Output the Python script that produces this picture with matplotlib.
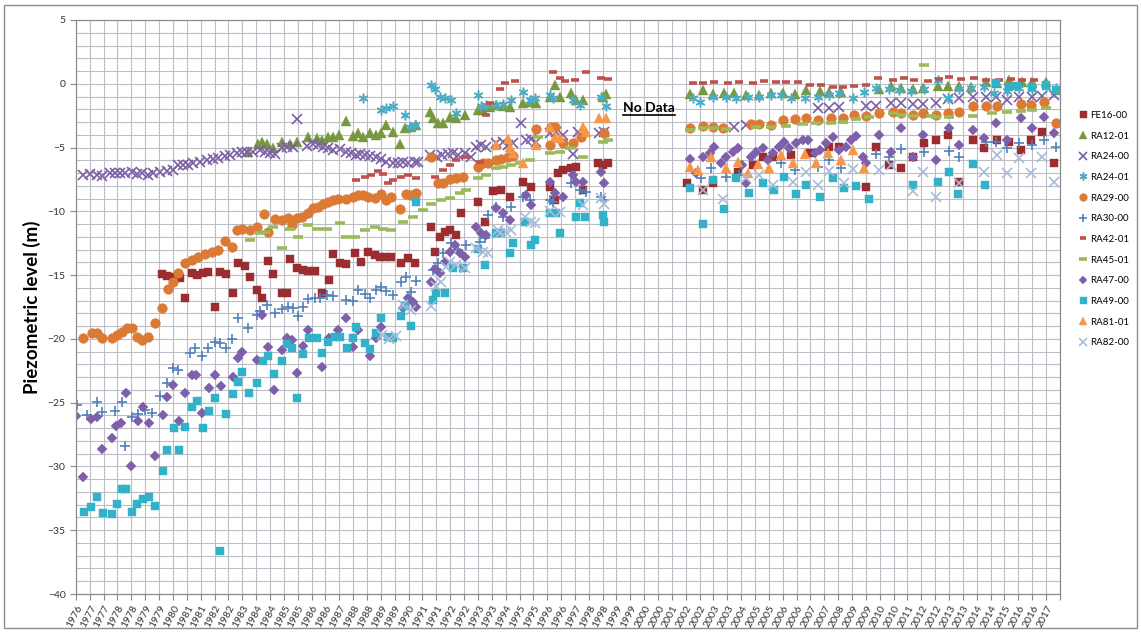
import matplotlib
matplotlib.use("Agg")
import matplotlib.pyplot as plt
from matplotlib.patches import Rectangle
from matplotlib.lines import Line2D
import pandas as pd
import numpy as np

plt.rcParams['font.family'] = ['Lato', 'DejaVu Sans']

# (decimal year, piezometric level in m)
fe16_00 = [(1980.02,-14.91),(1980.23,-15.06),(1980.51,-15.16),(1980.79,-15.24),(1981.00,-16.81),(1981.28,-14.80),
           (1981.49,-14.98),(1981.77,-14.80),(1981.98,-14.72),(1982.26,-17.47),(1982.47,-14.72),(1982.75,-14.91),
           (1983.01,-16.42),(1983.24,-14.07),(1983.52,-14.28),(1983.74,-15.16),(1984.02,-16.16),(1984.23,-16.81),
           (1984.51,-13.86),(1984.72,-14.91),(1985.07,-16.42),(1985.30,-16.37),(1985.42,-13.76),(1985.70,-14.46),
           (1985.98,-14.59),(1986.19,-14.64),(1986.47,-14.64),(1986.75,-16.42),(1987.07,-15.38),(1987.24,-13.34),
           (1987.52,-14.02),(1987.80,-14.12),(1988.15,-13.28),(1988.43,-13.94),(1988.71,-13.16),(1988.99,-13.42),
           (1989.20,-13.55),(1989.41,-13.60),(1989.69,-13.55),(1990.11,-14.07),(1990.39,-13.68),(1990.67,-14.07),
           (1991.37,-11.20),(1991.51,-13.16),(1991.72,-12.03),(1991.93,-11.59),(1992.15,-11.46),(1992.43,-11.85),
           (1992.64,-10.15),(1993.34,-9.24),(1993.62,-10.80),(1993.97,-8.38),(1994.32,-8.32),(1994.67,-8.85),
           (1995.23,-7.67),(1995.58,-8.06),(1996.35,-8.06),(1996.56,-9.11),(1996.70,-7.01),(1996.91,-6.76),
           (1997.27,-6.62),(1997.48,-6.50),(1997.76,-8.32),(1998.38,-6.23),(1998.59,-6.36),(1998.80,-6.23),
           (2002.13,-7.75),(2002.80,-8.32),(2003.22,-7.80),(2004.30,-6.90),(2004.90,-6.40),(2005.32,-5.71),
           (2005.74,-5.71),(2006.50,-5.60),(2007.30,-5.40),(2008.13,-4.93),(2008.55,-4.93),(2009.67,-8.06),
           (2010.09,-4.93),(2010.65,-6.36),(2011.14,-6.62),(2011.63,-5.71),(2012.12,-4.66),(2012.61,-4.40),
           (2013.10,-4.01),(2013.59,-7.67),(2014.15,-4.40),(2014.64,-5.06),(2015.20,-4.40),(2015.69,-4.53),
           (2016.18,-5.19),(2016.60,-4.40),(2017.09,-3.75),(2017.58,-6.23)]

ra12_01 = [(1983.67,-5.32),(1984.09,-4.72),(1984.23,-4.53),(1984.44,-4.72),(1984.72,-5.06),(1985.07,-4.53),
           (1985.42,-4.72),(1985.73,-4.53),(1986.19,-4.20),(1986.54,-4.27),(1986.75,-4.40),(1987.03,-4.14),
           (1987.24,-4.14),(1987.49,-4.01),(1987.80,-2.89),(1988.08,-4.09),(1988.29,-3.88),(1988.50,-4.14),
           (1988.78,-3.88),(1989.06,-4.01),(1989.27,-3.88),(1989.48,-3.23),(1989.76,-3.75),(1990.04,-4.72),
           (1990.25,-3.49),(1990.53,-3.36),(1990.74,-3.23),(1991.30,-2.18),(1991.44,-2.71),(1991.65,-3.10),
           (1991.86,-3.10),(1992.15,-2.58),(1992.43,-2.71),(1992.78,-2.45),(1993.34,-2.05),(1993.55,-2.05),
           (1993.83,-1.84),(1994.11,-1.66),(1994.39,-1.74),(1994.67,-1.79),(1995.23,-1.53),(1995.51,-1.40),
           (1995.79,-1.53),(1996.35,-1.01),(1996.56,-0.09),(1996.77,-1.01),(1997.27,-0.75),(1997.48,-1.27),
           (1997.76,-1.27),(1998.59,-1.06),(1998.73,-0.83),
           (2002.24,-0.80),(2002.80,-0.49),(2003.22,-0.80),(2003.71,-0.75),(2004.13,-0.70),(2004.62,-0.88),
           (2005.18,-0.88),(2005.68,-0.75),(2006.17,-0.75),(2006.66,-0.80),(2007.15,-0.49),(2007.71,-0.54),
           (2008.13,-0.62),(2008.62,-0.62),(2010.23,-0.43),(2010.72,-0.17),(2011.14,-0.35),(2011.63,-0.43),
           (2012.05,-0.35),(2012.68,-0.17),(2013.10,-0.17),(2013.59,-0.17),(2014.08,-0.27),(2014.71,0.17),
           (2015.20,0.04),(2015.69,0.30),(2016.25,0.17),(2016.67,0.17),(2017.23,0.17),(2017.65,-0.49)]

ra24_00 = [(1976.73,-7.15),(1977.01,-7.07),(1977.29,-7.15),(1977.50,-7.20),(1977.85,-6.97),(1978.06,-7.00),
           (1978.27,-7.00),(1978.48,-6.97),(1978.76,-6.90),(1978.97,-7.10),(1979.18,-6.97),(1979.46,-7.12),
           (1979.67,-7.00),(1979.95,-6.90),(1980.23,-6.80),(1980.51,-6.75),(1980.72,-6.36),(1980.93,-6.40),
           (1981.14,-6.36),(1981.35,-6.23),(1981.63,-6.10),(1981.92,-5.97),(1982.19,-5.92),(1982.40,-5.84),
           (1982.69,-5.66),(1982.90,-5.58),(1983.18,-5.40),(1983.39,-5.32),(1983.60,-5.32),(1983.88,-5.32),
           (1984.16,-5.19),(1984.37,-5.32),(1984.58,-5.45),(1984.79,-5.50),(1985.07,-5.06),(1985.28,-4.93),
           (1985.56,-4.93),(1985.73,-2.78),(1986.12,-4.87),(1986.40,-4.72),(1986.61,-4.80),(1986.82,-4.93),
           (1987.03,-5.06),(1987.24,-5.19),(1987.52,-5.13),(1987.80,-5.32),(1988.01,-5.45),(1988.22,-5.58),
           (1988.36,-5.50),(1988.57,-5.58),(1988.78,-5.66),(1989.06,-5.71),(1989.27,-5.92),(1989.48,-6.10),
           (1989.76,-6.18),(1989.97,-6.23),(1990.18,-6.15),(1990.39,-6.18),(1990.67,-6.10),(1990.81,-6.15),
           (1991.30,-5.58),(1991.59,-5.71),(1991.80,-5.58),(1992.08,-5.50),(1992.29,-5.45),(1992.50,-5.58),
           (1992.78,-5.45),(1993.06,-5.71),(1993.27,-4.93),(1993.48,-4.80),(1993.69,-4.93),(1994.11,-4.66),
           (1994.39,-4.53),(1994.60,-4.80),(1994.81,-4.66),(1995.16,-3.05),(1995.37,-4.40),(1995.58,-4.35),
           (1995.79,-4.53),(1996.35,-3.88),(1996.63,-3.75),(1996.91,-4.01),(1997.33,-5.50),(1997.54,-3.75),
           (1998.45,-3.88),(1998.66,-3.75),
           (2004.13,-3.36),(2004.62,-3.23),(2007.64,-1.92),(2008.13,-1.92),(2008.55,-1.84),(2009.67,-1.74),
           (2010.09,-1.74),(2010.72,-1.53),(2011.14,-1.53),(2011.63,-1.58),(2012.05,-1.58),(2012.61,-1.48),
           (2013.10,-1.22),(2013.59,-1.14),(2014.15,-1.06),(2014.71,-1.01),(2015.13,-1.06),(2015.62,-1.27),
           (2016.11,-1.06),(2016.67,-1.01),(2017.09,-0.96),(2017.58,-0.88)]

ra24_01 = [(1988.50,-1.14),(1989.27,-2.05),(1989.48,-1.92),(1989.76,-1.74),(1990.25,-2.45),(1990.46,-3.36),
           (1990.67,-3.23),(1991.37,-0.09),(1991.51,-0.43),(1991.72,-1.01),(1991.93,-1.14),(1992.22,-1.27),
           (1992.43,-2.31),(1993.34,-0.88),(1993.48,-1.74),(1993.69,-1.66),(1994.11,-1.66),(1994.39,-1.58),
           (1994.74,-1.27),(1995.23,-0.62),(1995.51,-1.27),(1995.72,-1.14),(1996.35,-0.88),(1996.49,-1.14),
           (1997.33,-1.27),(1997.61,-1.66),(1998.52,-1.01),(1998.73,-1.74),
           (2002.38,-1.14),(2002.66,-1.40),(2003.22,-1.01),(2003.78,-1.01),(2004.20,-1.14),(2004.69,-1.01),
           (2005.18,-1.01),(2005.68,-0.88),(2006.10,-0.88),(2006.52,-1.14),(2007.08,-1.14),(2007.64,-1.01),
           (2008.13,-0.88),(2008.55,-0.75),(2009.11,-1.14),(2009.60,-0.62),(2010.09,-0.35),(2010.65,-0.43),
           (2011.07,-0.49),(2011.56,-0.54),(2012.12,-0.43),(2012.68,0.30),(2013.10,-1.14),(2013.59,-0.43),
           (2014.08,-0.35),(2014.64,-0.27),(2015.06,-0.75),(2015.62,-0.54),(2016.11,-0.35),(2016.67,-0.43),
           (2017.23,-0.27),(2017.65,-0.35)]

ra29_00 = [(1976.73,-19.95),(1977.08,-19.50),(1977.29,-19.55),(1977.50,-19.95),(1977.92,-19.95),(1978.13,-19.69),
           (1978.34,-19.43),(1978.55,-19.16),(1978.76,-19.16),(1978.97,-19.82),(1979.18,-20.08),(1979.46,-19.82),
           (1979.74,-18.77),(1980.02,-17.59),(1980.30,-16.10),(1980.51,-15.51),(1980.72,-14.80),(1981.00,-14.07),
           (1981.28,-13.81),(1981.56,-13.55),(1981.84,-13.34),(1982.12,-13.16),(1982.40,-13.03),(1982.69,-12.30),
           (1982.97,-12.77),(1983.18,-11.46),(1983.39,-11.40),(1983.74,-11.46),(1984.02,-11.20),(1984.33,-10.20),
           (1984.51,-11.59),(1984.79,-10.62),(1985.07,-10.67),(1985.35,-10.54),(1985.49,-11.07),(1985.70,-10.54),
           (1985.91,-10.41),(1986.19,-10.15),(1986.40,-9.76),(1986.61,-9.63),(1986.82,-9.42),(1987.03,-9.24),
           (1987.24,-9.11),(1987.45,-9.05),(1987.80,-9.05),(1988.08,-8.85),(1988.29,-8.71),(1988.50,-8.71),
           (1988.71,-8.85),(1988.99,-8.97),(1989.27,-8.64),(1989.48,-9.11),(1989.69,-8.85),(1990.04,-9.84),
           (1990.32,-8.64),(1990.53,-8.71),(1990.74,-8.58),(1991.37,-5.71),(1991.65,-7.80),(1991.86,-7.75),
           (1992.15,-7.49),(1992.43,-7.41),(1992.71,-7.33),(1993.34,-6.50),(1993.55,-6.23),(1993.76,-6.18),
           (1994.11,-5.97),(1994.32,-5.92),(1994.60,-5.71),(1994.81,-5.66),(1995.79,-3.57),(1996.35,-4.80),
           (1996.42,-3.36),(1996.56,-3.36),(1996.91,-4.61),(1997.33,-4.61),(1997.68,-4.20),(1998.66,-3.88),
           (2002.24,-3.49),(2002.80,-3.31),(2003.22,-3.36),(2003.64,-3.44),(2004.83,-3.15),(2005.18,-3.15),
           (2005.68,-3.23),(2006.17,-2.84),(2006.66,-2.78),(2007.15,-2.70),(2007.64,-2.84),(2008.20,-2.70),
           (2008.69,-2.70),(2009.18,-2.45),(2009.67,-2.52),(2010.23,-2.31),(2010.79,-2.18),(2011.14,-2.31),
           (2011.63,-2.45),(2012.05,-2.31),(2012.61,-2.45),(2013.10,-2.26),(2013.59,-2.18),(2014.15,-1.74),
           (2014.71,-1.74),(2015.20,-1.74),(2016.18,-1.58),(2016.60,-1.66),(2017.16,-1.40),(2017.65,-3.10)]

ra30_00 = [(1976.45,-25.17),(1976.87,-25.96),(1977.29,-24.91),(1977.50,-25.77),(1978.06,-25.69),(1978.34,-24.91),
           (1978.48,-28.39),(1978.76,-26.09),(1979.04,-25.88),(1979.32,-25.56),(1979.60,-25.82),(1979.95,-24.47),
           (1980.23,-23.42),(1980.51,-22.30),(1980.72,-22.43),(1981.21,-21.12),(1981.42,-20.73),(1981.70,-21.33),
           (1981.98,-20.73),(1982.26,-20.21),(1982.47,-20.29),(1982.75,-20.73),(1982.97,-20.03),(1983.24,-18.38),
           (1983.67,-19.16),(1984.02,-18.12),(1984.16,-17.78),(1984.44,-17.34),(1984.79,-17.99),(1985.07,-17.67),
           (1985.35,-17.47),(1985.56,-17.59),(1985.77,-18.20),(1985.98,-17.47),(1986.19,-16.89),(1986.47,-16.81),
           (1986.68,-16.81),(1986.96,-16.55),(1987.24,-16.63),(1987.80,-16.94),(1988.08,-17.00),(1988.29,-16.16),
           (1988.57,-16.47),(1988.78,-16.81),(1989.06,-16.16),(1989.27,-15.90),(1989.48,-16.21),(1989.76,-16.55),
           (1990.11,-15.51),(1990.32,-15.16),(1990.53,-16.29),(1990.74,-15.43),(1991.44,-14.59),(1991.65,-14.07),
           (1991.86,-13.28),(1992.22,-12.50),(1992.50,-13.03),(1992.82,-12.63),(1993.41,-12.37),(1993.62,-12.11),
           (1993.76,-10.28),(1994.11,-9.63),(1994.39,-10.41),(1994.74,-9.63),(1995.23,-8.85),(1995.51,-9.11),
           (1996.35,-9.11),(1996.49,-9.24),(1997.27,-7.80),(1997.61,-8.32),(1997.89,-8.45),(1998.52,-8.85),
           (1998.66,-9.11),
           (2002.73,-7.41),(2003.15,-6.62),(2003.78,-7.28),(2004.34,-7.15),(2006.10,-6.18),(2006.66,-6.76),
           (2007.64,-6.50),(2008.13,-5.97),(2008.62,-6.62),(2010.09,-5.50),(2010.65,-5.71),(2011.14,-5.13),
           (2012.12,-5.32),(2013.17,-5.24),(2013.59,-5.76),(2014.71,-4.53),(2015.13,-4.53),(2015.62,-5.06),
           (2016.11,-4.66),(2016.67,-4.80),(2017.16,-4.40),(2017.65,-4.93)]

ra42_01 = [(1988.22,-7.54),(1988.57,-7.28),(1988.85,-7.15),(1989.13,-6.81),(1989.34,-7.07),(1989.55,-7.75),
           (1989.76,-7.54),(1990.11,-7.28),(1990.39,-7.15),(1990.74,-7.41),(1991.51,-7.28),(1991.86,-6.76),
           (1992.15,-6.36),(1992.43,-5.97),(1992.78,-5.71),(1993.41,-6.10),(1993.69,-2.45),(1993.83,-1.53),
           (1994.25,-0.43),(1994.46,0.04),(1994.88,0.25),(1996.49,0.95),(1996.77,0.43),(1996.98,0.25),
           (1997.40,0.30),(1997.89,0.95),(1998.52,0.43),(1998.80,0.35),
           (2002.38,0.04),(2002.80,0.04),(2003.29,0.17),(2003.85,0.04),(2004.34,0.12),(2004.90,0.04),
           (2005.39,0.22),(2005.88,0.17),(2006.31,0.17),(2006.80,0.12),(2007.29,-0.09),(2007.78,-0.09),
           (2008.27,-0.27),(2008.69,-0.27),(2009.18,-0.17),(2009.67,-0.09),(2010.16,0.43),(2010.79,0.30),
           (2011.28,0.43),(2011.70,0.30),(2012.26,0.25),(2012.75,0.38),(2013.17,0.51),(2013.66,0.35),
           (2014.22,0.43),(2014.71,0.30),(2015.28,0.30),(2015.77,0.35),(2016.25,0.30),(2016.74,0.30)]

ra45_01 = [(1983.74,-12.24),(1984.16,-11.67),(1984.37,-11.59),(1984.72,-11.20),(1985.07,-12.90),(1985.42,-11.40),
           (1985.77,-11.98),(1986.19,-11.07),(1986.54,-11.40),(1986.96,-11.40),(1987.52,-10.94),(1987.80,-11.98),
           (1988.15,-12.03),(1988.57,-11.46),(1988.99,-11.20),(1989.34,-11.40),(1989.69,-11.46),(1990.18,-10.80),
           (1990.60,-10.41),(1991.02,-9.89),(1991.37,-9.42),(1991.79,-9.11),(1992.15,-8.97),(1992.57,-8.58),
           (1992.85,-8.32),(1993.34,-7.41),(1993.69,-7.15),(1994.11,-6.62),(1994.39,-6.50),(1994.74,-6.36),
           (1995.09,-6.23),(1995.51,-5.97),(1995.86,-4.20),(1996.35,-5.45),(1996.77,-5.32),(1997.19,-5.06),
           (1997.76,-5.71),(1998.59,-4.53),(1998.80,-4.40),
           (2002.24,-3.62),(2002.80,-3.49),(2003.29,-3.49),(2003.78,-3.57),(2005.04,-3.36),(2005.68,-3.41),
           (2006.31,-3.31),(2007.01,-3.15),(2007.57,-3.10),(2008.20,-3.05),(2008.69,-2.97),(2009.25,-2.78),
           (2009.81,-2.63),(2010.79,-2.31),(2011.14,-2.45),(2011.63,-2.52),(2012.12,1.47),(2012.40,-2.52),
           (2012.61,-2.63),(2013.17,-2.58),(2014.15,-2.52),(2014.99,-2.31),(2015.62,-2.18),(2016.18,-2.10),
           (2016.67,-2.05),(2017.23,-1.92)]

ra47_00 = [(1976.42,-26.03),(1976.73,-30.84),(1977.04,-26.29),(1977.29,-26.09),(1977.50,-28.65),(1977.92,-27.78),
           (1978.10,-26.82),(1978.30,-26.56),(1978.52,-24.21),(1978.72,-30.00),(1979.04,-26.40),(1979.22,-25.35),
           (1979.50,-26.61),(1979.74,-29.22),(1980.06,-25.96),(1980.26,-24.52),(1980.51,-23.60),(1980.76,-26.40),
           (1981.00,-24.21),(1981.28,-22.82),(1981.46,-22.82),(1981.74,-25.82),(1982.02,-23.86),(1982.26,-22.82),
           (1982.50,-23.68),(1983.01,-22.95),(1983.24,-21.51),(1983.42,-20.99),(1984.02,-21.64),(1984.23,-18.12),
           (1984.51,-20.65),(1984.75,-23.99),(1985.07,-20.91),(1985.28,-19.95),(1985.49,-20.08),(1985.73,-22.64),
           (1985.98,-20.55),(1986.19,-19.30),(1986.75,-22.17),(1987.07,-19.95),(1987.45,-19.30),(1987.80,-18.38),
           (1988.08,-20.60),(1988.29,-19.30),(1988.78,-21.33),(1989.06,-19.95),(1989.27,-19.03),(1990.18,-17.59),
           (1990.39,-16.81),(1990.60,-17.07),(1990.74,-17.52),(1991.37,-15.51),(1991.51,-14.54),(1991.72,-14.85),
           (1991.93,-13.94),(1992.15,-13.16),(1992.36,-12.63),(1992.57,-13.28),(1992.78,-13.55),(1993.27,-11.20),
           (1993.48,-11.72),(1993.69,-11.85),(1994.11,-9.76),(1994.39,-10.15),(1994.67,-10.67),(1995.37,-8.71),
           (1995.58,-9.50),(1996.35,-7.67),(1996.56,-8.58),(1996.91,-8.85),(1997.33,-7.15),(1997.48,-7.67),
           (1997.76,-7.67),(1998.52,-6.89),(1998.66,-7.75),
           (2002.24,-5.92),(2002.52,-7.01),(2002.80,-5.71),(2003.08,-5.45),(2003.29,-4.93),(2003.57,-6.23),
           (2003.78,-5.71),(2004.06,-5.32),(2004.27,-5.06),(2004.45,-6.40),(2004.62,-7.80),(2004.83,-5.71),
           (2005.04,-5.32),(2005.32,-5.06),(2005.53,-5.97),(2005.74,-5.45),(2006.02,-4.93),(2006.23,-4.53),
           (2006.44,-5.06),(2006.73,-4.66),(2007.01,-4.40),(2007.22,-4.40),(2007.50,-5.45),(2007.71,-5.19),
           (2007.99,-4.66),(2008.27,-4.14),(2008.55,-5.19),(2008.83,-4.93),(2009.04,-4.40),(2009.25,-4.09),
           (2009.53,-5.71),(2009.67,-6.23),(2010.23,-4.01),(2010.72,-5.32),(2011.14,-3.49),(2011.63,-5.71),
           (2012.05,-4.01),(2012.61,-5.97),(2013.17,-3.49),(2013.59,-4.80),(2014.15,-3.62),(2014.64,-4.27),
           (2015.13,-3.05),(2015.62,-4.40),(2016.18,-2.71),(2016.67,-3.49),(2017.16,-2.58),(2017.58,-3.88)]

ra49_00 = [(1976.76,-33.60),(1977.04,-33.19),(1977.32,-32.36),(1977.54,-33.66),(1977.92,-33.71),(1978.13,-32.93),
           (1978.34,-31.78),(1978.52,-31.78),(1978.76,-33.60),(1978.99,-32.93),(1979.22,-32.56),(1979.50,-32.41),
           (1979.74,-33.14),(1980.06,-30.32),(1980.26,-28.70),(1980.54,-27.00),(1980.76,-28.70),(1981.00,-26.87),
           (1981.28,-25.35),(1981.49,-24.84),(1981.77,-27.00),(1982.02,-25.62),(1982.28,-24.65),(1982.47,-36.59),
           (1982.75,-25.88),(1983.01,-24.31),(1983.24,-23.35),(1983.42,-22.56),(1983.70,-24.26),(1984.04,-23.47),
           (1984.27,-21.70),(1984.51,-21.33),(1984.75,-22.74),(1985.07,-21.70),(1985.28,-20.39),(1985.49,-20.73),
           (1985.73,-24.65),(1985.98,-21.18),(1986.23,-19.95),(1986.54,-19.95),(1986.75,-21.12),(1987.03,-20.21),
           (1987.31,-19.87),(1987.52,-19.87),(1987.83,-20.73),(1988.08,-19.95),(1988.22,-19.08),(1988.57,-20.29),
           (1988.78,-20.81),(1989.06,-19.55),(1989.27,-18.38),(1989.55,-19.82),(1989.76,-19.95),(1990.11,-18.20),
           (1990.25,-17.41),(1990.53,-18.98),(1990.74,-9.24),(1991.44,-16.94),(1991.58,-16.37),(1991.93,-16.37),
           (1992.29,-14.46),(1992.71,-14.46),(1993.34,-12.97),(1993.62,-14.20),(1994.11,-11.72),(1994.32,-11.72),
           (1994.67,-13.28),(1994.81,-12.50),(1995.30,-10.80),(1995.58,-12.63),(1995.72,-12.24),(1996.35,-10.15),
           (1996.63,-10.15),(1996.77,-11.72),(1997.48,-10.41),(1997.61,-9.37),(1997.82,-10.41),(1998.59,-10.28),
           (1998.66,-10.80),
           (2002.24,-8.19),(2002.80,-10.99),(2003.22,-7.54),(2003.67,-9.84),(2004.20,-7.41),(2004.76,-8.58),
           (2005.32,-7.80),(2005.81,-8.32),(2006.23,-7.28),(2006.73,-8.64),(2007.15,-7.93),(2007.71,-8.85),
           (2008.27,-7.41),(2008.76,-8.19),(2009.25,-8.01),(2009.78,-9.05),(2011.63,-7.93),(2012.68,-7.67),
           (2013.17,-6.89),(2013.56,-8.64),(2014.15,-6.28),(2014.67,-7.93),(2015.13,0.09),(2015.69,-0.27),
           (2016.04,-0.17),(2016.67,-0.27),(2017.23,-0.09),(2017.65,-0.49)]

ra81_01 = [(1994.11,-4.80),(1994.60,-4.35),(1994.67,-4.93),(1994.81,-5.40),(1995.23,-6.23),(1995.79,-4.80),
           (1996.35,-3.36),(1996.56,-4.14),(1996.77,-4.27),(1997.76,-3.36),(1997.89,-3.75),(1998.45,-2.71),
           (1998.73,-2.71),
           (2002.24,-6.50),(2002.59,-6.76),(2003.15,-5.71),(2003.78,-6.62),(2004.27,-6.10),(2004.69,-7.01),
           (2005.11,-6.28),(2005.60,-6.62),(2006.10,-5.58),(2006.59,-6.18),(2007.08,-5.50),(2007.57,-6.18),
           (2008.06,-5.45),(2008.62,-5.97),(2009.11,-5.19),(2009.60,-6.62)]

ra82_00 = [(1989.30,-19.70),(1989.60,-20.00),(1989.90,-19.80),(1990.18,-17.34),(1990.53,-17.73),(1991.37,-17.41),
           (1991.58,-15.85),(1991.79,-15.51),(1992.00,-14.33),(1992.15,-13.94),(1992.43,-14.20),(1992.78,-14.46),
           (1993.27,-12.90),(1993.55,-13.16),(1993.76,-13.28),(1994.18,-11.46),(1994.25,-11.72),(1994.53,-11.59),
           (1994.74,-11.46),(1995.30,-10.41),(1995.58,-10.80),(1995.72,-10.94),(1996.35,-9.94),(1996.77,-10.02),
           (1997.76,-9.50),(1998.52,-8.97),(1998.66,-9.42),
           (2002.80,-8.32),(2003.64,-9.05),(2004.62,-7.41),(2005.18,-7.15),(2005.74,-7.93),(2006.59,-7.67),
           (2007.15,-6.89),(2007.64,-7.93),(2008.13,-6.81),(2008.76,-7.75),(2009.11,-6.70),(2010.23,-6.76),
           (2010.72,-6.36),(2011.63,-8.38),(2012.05,-6.89),(2012.61,-8.85),(2013.59,-7.80),(2014.64,-6.89),
           (2015.20,-5.58),(2015.62,-7.01),(2016.11,-5.84),(2016.60,-7.01),(2017.09,-5.71),(2017.58,-7.67)]

# name, data, marker, colour, marker size, edge width
series = [
    ("FE16-00", fe16_00, 's', '#9B2D30', 6.3, 0),
    ("RA12-01", ra12_01, '^', '#77983F', 7.0, 0),
    ("RA24-00", ra24_00, 'x', '#7B5FA5', 6.5, 1.2),
    ("RA24-01", ra24_01, (6, 2, 0), '#4BACC6', 7.0, 1.1),
    ("RA29-00", ra29_00, 'o', '#DB7A34', 7.0, 0),
    ("RA30-00", ra30_00, '+', '#4F81BD', 7.0, 1.2),
    ("RA42-01", ra42_01, '_', '#C0504D', 6.0, 2.6),
    ("RA45-01", ra45_01, '_', '#9BBB59', 7.5, 2.6),
    ("RA47-00", ra47_00, 'D', '#7E5FAA', 5.2, 0),
    ("RA49-00", ra49_00, 's', '#31B2C8', 6.3, 0),
    ("RA81-01", ra81_01, '^', '#F79646', 7.0, 0),
    ("RA82-00", ra82_00, 'x', '#A9BBDA', 6.5, 1.2),
]

# x axis: Excel date axis starting June 1976, one gridline every 7 months
tick_dates = pd.date_range('1976-06-01', periods=72, freq='7MS')
tick_pos = tick_dates.year + (tick_dates.dayofyear - 1) / 365.25
tick_labels = [str(y) for y in tick_dates.year[:-1]] + ['']

fig = plt.figure(figsize=(11.41, 6.32), dpi=100)
ax = fig.add_axes([76/1141, 1 - 594/632, 984/1141, 574/632])

handles = []
for name, data, mk, col, ms, mew in series:
    xs = [p[0] for p in data]
    ys = [p[1] for p in data]
    if mew:
        h, = ax.plot(xs, ys, linestyle='none', marker=mk, ms=ms, color=col, mew=mew, label=name)
    else:
        h, = ax.plot(xs, ys, linestyle='none', marker=mk, ms=ms, color=col, mec=col, mew=0.3, label=name)
    handles.append(h)

ax.set_xlim(tick_pos[0], tick_pos[-1])
ax.set_ylim(-40, 5)
ax.set_xticks(tick_pos)
ax.set_xticklabels(tick_labels, rotation=62, ha='right', rotation_mode='anchor', fontsize=7.5, color='#333333')
ax.set_yticks(np.arange(-40, 6, 5))
ax.set_yticks(np.arange(-40, 6, 1), minor=True)
ax.tick_params(axis='y', which='major', labelsize=7.5, colors='#333333', length=4, color='#888888')
ax.tick_params(axis='y', which='minor', length=0)
ax.tick_params(axis='x', length=4, color='#888888', pad=3)
ax.grid(True, which='both', color='#BDBDC6', lw=0.8)
ax.set_axisbelow(True)
for sp in ax.spines.values():
    sp.set_color('#8C8C8C')
    sp.set_linewidth(0.9)

ax.set_ylabel('Piezometric level (m)', fontsize=13.5, fontweight='bold', labelpad=5)

nd = ax.text(2000.52, -1.9, 'No Data', fontsize=10, fontweight='bold', ha='center', va='center')

fig.legend(handles=handles, loc='upper left', bbox_to_anchor=(1074/1141, 1 - 106/632),
           frameon=False, fontsize=7, handlelength=0.9, handletextpad=0.3,
           labelspacing=1.2, borderpad=0, markerscale=0.8)

fig.patches.append(Rectangle((4/1141, 4/632), 1133/1141, 623/632, transform=fig.transFigure,
                             fill=False, edgecolor='#8C8C8C', lw=1))

# underline for the "No Data" note
fig.canvas.draw()
bb = nd.get_window_extent().transformed(fig.transFigure.inverted())
fig.lines.append(Line2D([bb.x0, bb.x1], [bb.y0 - 0.002, bb.y0 - 0.002], transform=fig.transFigure,
                        color='black', lw=1.2))

fig.savefig('out.png', dpi=100)
